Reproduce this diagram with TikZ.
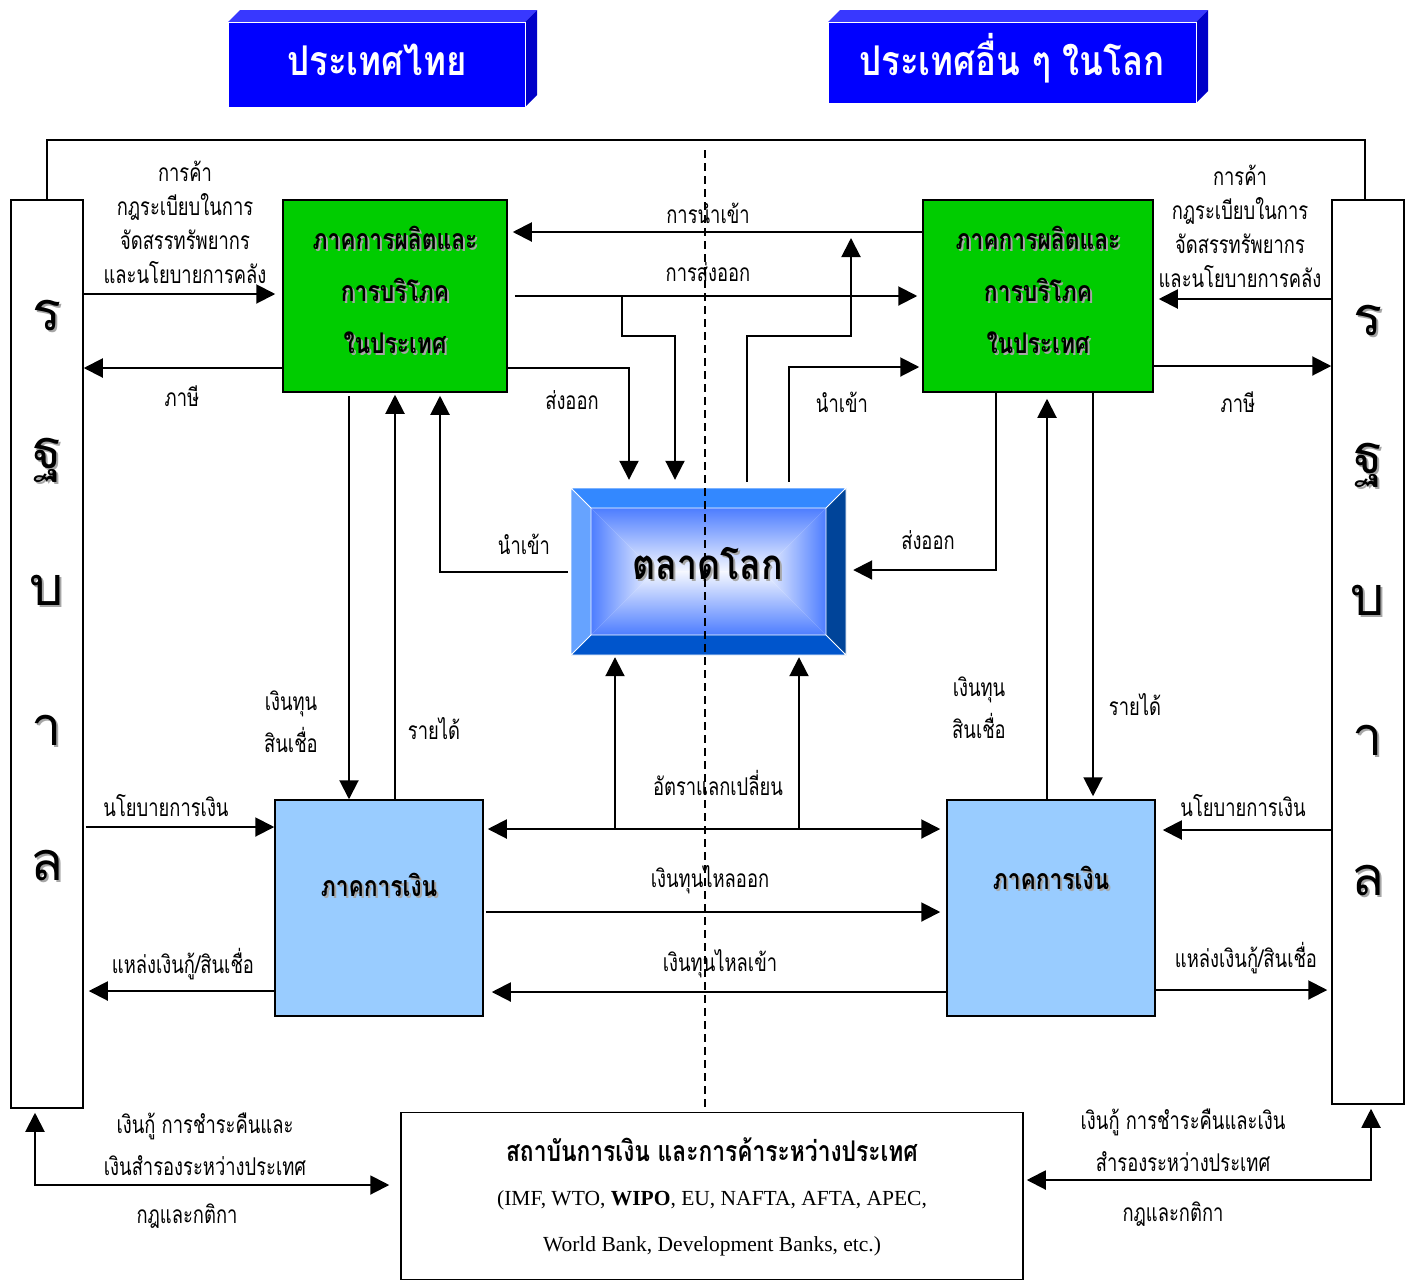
\documentclass[tikz,border=0pt]{standalone}
\usepackage{fontspec}
\usepackage{xcolor}
\usetikzlibrary{arrows.meta}
\usetikzlibrary{calc}
\usetikzlibrary{positioning}

\newfontfamily\thai[Script=Thai]{Loma}
\newfontfamily\thaic[Script=Thai,FakeStretch=0.75]{Loma}
\newfontfamily\thaibf[Script=Thai,FakeStretch=0.8]{Loma}
\newfontfamily\thaiwide[Script=Thai,FakeStretch=0.85]{Loma}
\newfontfamily\tnr{Liberation Serif}

\definecolor{titleblue}{HTML}{0000FF}
\definecolor{titletop}{HTML}{3838FF}
\definecolor{titleside}{HTML}{0000C8}
\definecolor{prodgreen}{HTML}{00CC00}
\definecolor{finblue}{HTML}{99CCFF}
\definecolor{mktedge}{HTML}{4D7DFF}
\definecolor{mktcenter}{HTML}{F4F7FF}
\definecolor{bevtop}{HTML}{3388FF}
\definecolor{bevleft}{HTML}{66A3FF}
\definecolor{bevbot}{HTML}{0055CC}
\definecolor{bevright}{HTML}{004499}

\tikzset{
  arr/.style={-{Triangle[length=19pt,width=19pt]},line width=2pt},
  dblarr/.style={{Triangle[length=19pt,width=19pt]}-{Triangle[length=19pt,width=19pt]},line width=2pt},
  lab/.style={font=\thaic\fontsize{24.5}{34}\selectfont,align=center,inner sep=0pt},
  widelab/.style={lab,font=\thaic\fontsize{24.5}{42}\selectfont},
  boxtext/.style={font=\thaibf\bfseries\fontsize{28.5}{52}\selectfont,align=center,inner sep=0pt},
  govletter/.style={font=\thai\fontsize{54}{56}\selectfont,inner sep=0pt},
  titletext/.style={font=\thaiwide\bfseries\fontsize{41}{44}\selectfont,text=white},
  govbar/.style={draw,line width=1.5pt,fill=white,minimum width=72pt,inner sep=0pt},
  prodbox/.style={draw,line width=1.5pt,fill=prodgreen,minimum height=192pt,inner sep=0pt},
  finbox/.style={draw,line width=1.5pt,fill=finblue,minimum width=208pt,minimum height=216pt,inner sep=0pt},
}

% gray copy first, black text on top
\newcommand\shadowtext[4]{%
  \node[#1,text=black!35] (#2-sh) at ($(#3)+(2,2)$) {#4};
  \node[#1] (#2) at (#3) {#4};}

\begin{document}
\begin{tikzpicture}[x=1pt,y=-1pt]
  \useasboundingbox (0,0) rectangle (1411,1280);

  % titles
  \fill[titletop] (228,22) -- (240,10) -- (537,10) -- (525,22) -- cycle;
  \fill[titleside] (525,22) -- (537,10) -- (537,95) -- (525,107) -- cycle;
  \filldraw[fill=titleblue,draw=white,line width=0.8pt] (228,22) rectangle (525,107);
  \node[titletext] (thailand) at (377,60) {ประเทศไทย};

  \fill[titletop] (828,22) -- (840,10) -- (1208,10) -- (1196,22) -- cycle;
  \fill[titleside] (1196,22) -- (1208,10) -- (1208,91) -- (1196,103) -- cycle;
  \filldraw[fill=titleblue,draw=white,line width=0.8pt] (828,22) rectangle (1196,103);
  \node[titletext] (world) at (1012,58) {ประเทศอื่น ๆ ในโลก};

  % boxes
  \node[govbar,minimum height=908pt] (govL) at (47,654) {};
  \node[govbar,minimum height=904pt] (govR) at (1368,652) {};
  \node[prodbox,minimum width=224pt] (prodL) at (395,296) {};
  \node[prodbox,minimum width=230pt] (prodR) at (1038,296) {};
  \node[finbox] (finL) at (379,908) {};
  \node[finbox] (finR) at (1051,908) {};
  \node[draw,line width=1.5pt,minimum width=622pt,minimum height=167pt] (inst) at (712,1196) {};

  % world market, bevelled
  \fill[bevtop] (571,488) -- (846,488) -- (826,508) -- (591,508) -- cycle;
  \fill[bevbot] (571,655) -- (846,655) -- (826,635) -- (591,635) -- cycle;
  \fill[bevleft] (571,488) -- (591,508) -- (591,635) -- (571,655) -- cycle;
  \fill[bevright] (846,488) -- (826,508) -- (826,635) -- (846,655) -- cycle;
  \shade[top color=mktedge,bottom color=mktcenter] (591,508) -- (826,508) -- (762.5,571.5) -- (654.5,571.5) -- cycle;
  \shade[top color=mktcenter,bottom color=mktedge] (591,635) -- (826,635) -- (762.5,571.5) -- (654.5,571.5) -- cycle;
  \shade[left color=mktedge,right color=mktcenter] (591,508) -- (654.5,571.5) -- (591,635) -- cycle;
  \shade[left color=mktcenter,right color=mktedge] (826,508) -- (762.5,571.5) -- (826,635) -- cycle;
  \draw[white,line width=0.8pt] (571,488) rectangle (846,655) (591,508) rectangle (826,635)
    (571,488) -- (591,508) (846,488) -- (826,508) (571,655) -- (591,635) (846,655) -- (826,635);
  \node[minimum width=275pt,minimum height=167pt] (mkt) at (708.5,571.5) {};
  \shadowtext{font=\thaiwide\bfseries\fontsize{42}{44}\selectfont,inner sep=0pt}{mkttext}{708,564}{ตลาดโลก}

  % box texts
  \shadowtext{boxtext}{prodLtext}{395,290}{ภาคการผลิตและ\\การบริโภค\\ในประเทศ}
  \shadowtext{boxtext}{prodRtext}{1038,290}{ภาคการผลิตและ\\การบริโภค\\ในประเทศ}
  \shadowtext{boxtext}{finLtext}{379,885}{ภาคการเงิน}
  \shadowtext{boxtext}{finRtext}{1051,878}{ภาคการเงิน}

  % government letters
  \foreach \ch/\yl/\yr [count=\i] in {ร/315/320, ฐ/460/465, บ/590/600, า/730/740, ล/865/880}{
    \shadowtext{govletter}{gL\i}{47,\yl}{\ch}
    \shadowtext{govletter}{gR\i}{1368,\yr}{\ch}
  }

  % top frame and border line
  \coordinate (frametop) at (700,140);
  \draw[line width=1.5pt] (govL.north) |- (frametop) -| ([xshift=-3pt]govR.north);
  \coordinate (divtop) at (705,150);
  \draw[line width=1.3pt,dash pattern=on 8pt off 5pt] (divtop) -- (inst.north -| divtop);

  % government <-> production
  \draw[arr,shorten >=7pt] (govL.east |- 0,294) -- (prodL.west |- 0,294);
  \draw[arr] (prodL.west |- 0,368) -- (govL.east |- 0,368);
  \draw[arr,shorten >=5pt] (govR.west |- 0,299) -- (prodR.east |- 0,299);
  \draw[arr] (prodR.east |- 0,366) -- (govR.west |- 0,366);

  % trade between the two production sectors
  \draw[arr,shorten >=5pt] (prodR.west |- 0,232) -- (prodL.east |- 0,232);
  \draw[arr,shorten <=7pt,shorten >=5pt] (prodL.east |- 0,296) -- (prodR.west |- 0,296);
  \coordinate (exbranch) at (622,296);
  \coordinate (imline) at (851,232);
  \draw[arr,shorten >=8pt] (exbranch) |- (675,336) -- (mkt.north -| 675,0);
  \draw[arr,shorten >=8pt] (prodL.east |- 0,368) -| (mkt.north -| 629,0);
  \draw[arr,shorten <=6pt,shorten >=3pt] (mkt.north -| 789,0) |- (prodR.west |- 0,367);
  \draw[arr,shorten <=6pt,shorten >=6pt] (mkt.north -| 747,0) |- (851,336) -- (imline);
  \draw[arr,shorten <=3pt,shorten >=3pt] (mkt.west |- 0,572) -| (prodL.south -| 440,0);
  \draw[arr,shorten >=7pt] (prodR.south -| 996,0) |- (mkt.east |- 0,570);

  % production <-> finance
  \draw[arr,shorten <=3pt] (prodL.south -| 349,0) -- (finL.north -| 349,0);
  \draw[arr,shorten >=2pt] (finL.north -| 395,0) -- (prodL.south -| 395,0);
  \draw[arr,shorten >=6pt] (finR.north -| 1047,0) -- (prodR.south -| 1047,0);
  \draw[arr,shorten >=3pt] (prodR.south -| 1093,0) -- (finR.north -| 1093,0);

  % government <-> finance
  \draw[arr,shorten <=2pt] (govL.east |- 0,827) -- (finL.west |- 0,827);
  \draw[arr,shorten >=5pt] (finL.west |- 0,991) -- (govL.east |- 0,991);
  \draw[arr,shorten >=7pt] (govR.west |- 0,830) -- (finR.east |- 0,830);
  \draw[arr,shorten >=4pt] (finR.east |- 0,990) -- (govR.west |- 0,990);

  % between the two finance sectors
  \draw[dblarr,shorten <=4pt,shorten >=6pt] (finL.east |- 0,829) -- (finR.west |- 0,829);
  \coordinate (fx1) at (615,829);
  \coordinate (fx2) at (799,829);
  \draw[arr,shorten >=2pt] (fx1) -- (mkt.south -| fx1);
  \draw[arr,shorten >=2pt] (fx2) -- (mkt.south -| fx2);
  \draw[arr,shorten <=2pt,shorten >=6pt] (finL.east |- 0,912) -- (finR.west |- 0,912);
  \draw[arr,shorten >=8pt] (finR.west |- 0,992) -- (finL.east |- 0,992);

  % international institutions
  \draw[dblarr,shorten <=4pt,shorten >=11pt] (govL.south -| 35,0) |- (inst.west |- 0,1185);
  \draw[dblarr,shorten <=3pt,shorten >=4pt] (inst.east |- 0,1180) -| (govR.south -| 1371,0);

  % labels
  \node[lab] (tradeL) at (185,222) {การค้า\\กฎระเบียบในการ\\จัดสรรทรัพยากร\\และนโยบายการคลัง};
  \node[lab] (tradeR) at (1240,226) {การค้า\\กฎระเบียบในการ\\จัดสรรทรัพยากร\\และนโยบายการคลัง};
  \node[lab] (taxL) at (182,396) {ภาษี};
  \node[lab] (taxR) at (1238,402) {ภาษี};
  \node[lab] (imp) at (708,213) {การนำเข้า};
  \node[lab] (exp) at (708,272) {การส่งออก};
  \node[lab] (expL) at (572,400) {ส่งออก};
  \node[lab] (impR) at (842,402) {นำเข้า};
  \node[lab] (impL) at (524,544) {นำเข้า};
  \node[lab] (expR) at (928,540) {ส่งออก};
  \node[widelab] (capL) at (291,722) {เงินทุน\\สินเชื่อ};
  \node[lab] (incL) at (434,729) {รายได้};
  \node[widelab] (capR) at (979,708) {เงินทุน\\สินเชื่อ};
  \node[lab] (incR) at (1135,705) {รายได้};
  \node[lab] (monL) at (166,806) {นโยบายการเงิน};
  \node[lab] (monR) at (1243,806) {นโยบายการเงิน};
  \node[lab] (loanL) at (183,964) {แหล่งเงินกู้/สินเชื่อ};
  \node[lab] (loanR) at (1246,958) {แหล่งเงินกู้/สินเชื่อ};
  \node[lab] (fxrate) at (718,783) {อัตราแลกเปลี่ยน};
  \node[lab] (outflow) at (710,880) {เงินทุนไหลออก};
  \node[lab] (inflow) at (720,964) {เงินทุนไหลเข้า};
  \node[widelab] (resL) at (205,1144) {เงินกู้ การชำระคืนและ\\เงินสำรองระหว่างประเทศ};
  \node[lab] (rulesL) at (187,1216) {กฎและกติกา};
  \node[widelab] (resR) at (1183,1140) {เงินกู้ การชำระคืนและเงิน\\สำรองระหว่างประเทศ};
  \node[lab] (rulesR) at (1173,1214) {กฎและกติกา};

  % institutions text
  \node[font=\thaibf\bfseries\fontsize{28.5}{30}\selectfont,inner sep=0pt] (insttitle) at (712,1150) {สถาบันการเงิน และการค้าระหว่างประเทศ};
  \node[font=\tnr\fontsize{21.5}{23}\selectfont,inner sep=0pt] (instlist) at (712,1200) {(IMF, WTO, \textbf{WIPO}, EU, NAFTA, AFTA, APEC,};
  \node[font=\tnr\fontsize{21.5}{23}\selectfont,inner sep=0pt] (instbank) at (712,1246) {World Bank, Development Banks, etc.)};
\end{tikzpicture}
\end{document}
